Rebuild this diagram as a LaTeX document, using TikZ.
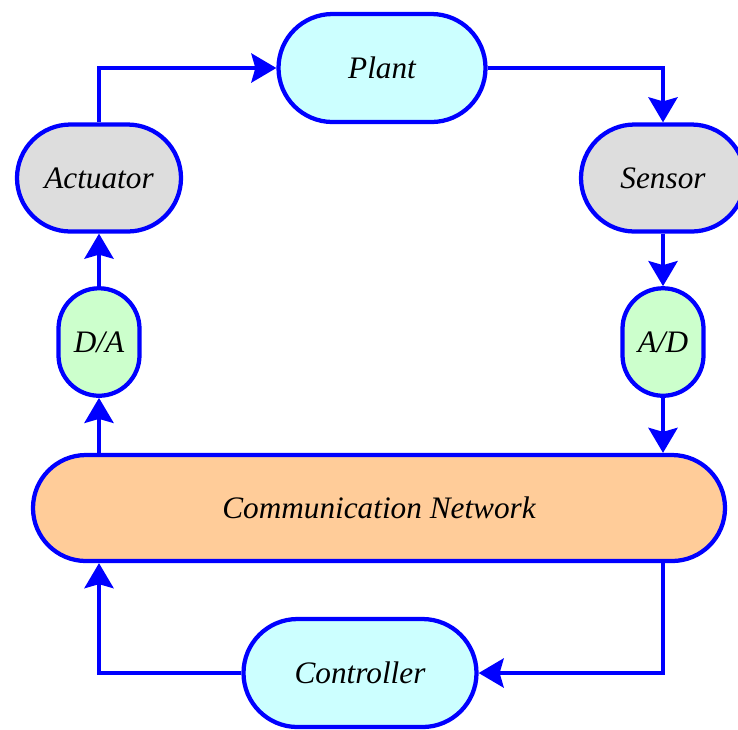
\documentclass[tikz,border=0pt]{standalone}
\usepackage{fontspec}
\setmainfont{Liberation Serif}
\usetikzlibrary{arrows.meta}
\definecolor{linkblue}{RGB}{0,0,255}
\definecolor{plantfill}{RGB}{204,255,255}
\definecolor{devfill}{RGB}{221,221,221}
\definecolor{convfill}{RGB}{204,255,204}
\definecolor{netfill}{RGB}{255,204,153}
\begin{document}
\begin{tikzpicture}[x=0.4pt, y=-0.4pt,
        block/.style={draw=linkblue, line width=1.7pt, inner sep=0pt,
            font=\fontsize{12.5}{15}\selectfont\itshape},
        link/.style={draw=linkblue, line width=1.7pt,
            -{Stealth[length=10pt, width=11.6pt, inset=1.6pt]}}]
        \useasboundingbox (0, 0) rectangle (738, 729);
        \node[block, fill = plantfill, minimum width = 82.8pt, minimum height = 43.2pt, rounded corners = 21.6pt] (plant) at (382, 68) {Plant};
        \node[block, fill = devfill, minimum width = 65.6pt, minimum height = 42.8pt, rounded corners = 21.4pt] (actuator) at (99, 178) {Actuator};
        \node[block, fill = devfill, minimum width = 65.6pt, minimum height = 42.8pt, rounded corners = 21.4pt] (sensor) at (663, 178) {Sensor};
        \node[block, fill = convfill, minimum width = 32.4pt, minimum height = 43pt, rounded corners = 16.2pt] (da) at (99, 342) {D/A};
        \node[block, fill = convfill, minimum width = 32.4pt, minimum height = 43pt, rounded corners = 16.2pt] (ad) at (663, 342) {A/D};
        \node[block, fill = netfill, minimum width = 276.8pt, minimum height = 42.4pt, rounded corners = 21.2pt] (net) at (379, 508) {Communication Network};
        \node[block, fill = plantfill, minimum width = 93.2pt, minimum height = 43.2pt, rounded corners = 21.6pt] (ctrl) at (360, 673) {Controller};
        \draw[link] (actuator.north) |- (plant.west);
        \draw[link] (plant.east) -| (sensor.north);
        \draw[link] (sensor.south) -- (ad.north);
        \draw[link] (ad.south) -- (ad.south |- net.north);
        \draw[link] (ad.south |- net.south) |- (ctrl.east);
        \draw[link] (ctrl.west) -| (da.south |- net.south);
        \draw[link] (da.south |- net.north) -- (da.south);
        \draw[link] (da.north) -- (actuator.south);
\end{tikzpicture}
\end{document}
